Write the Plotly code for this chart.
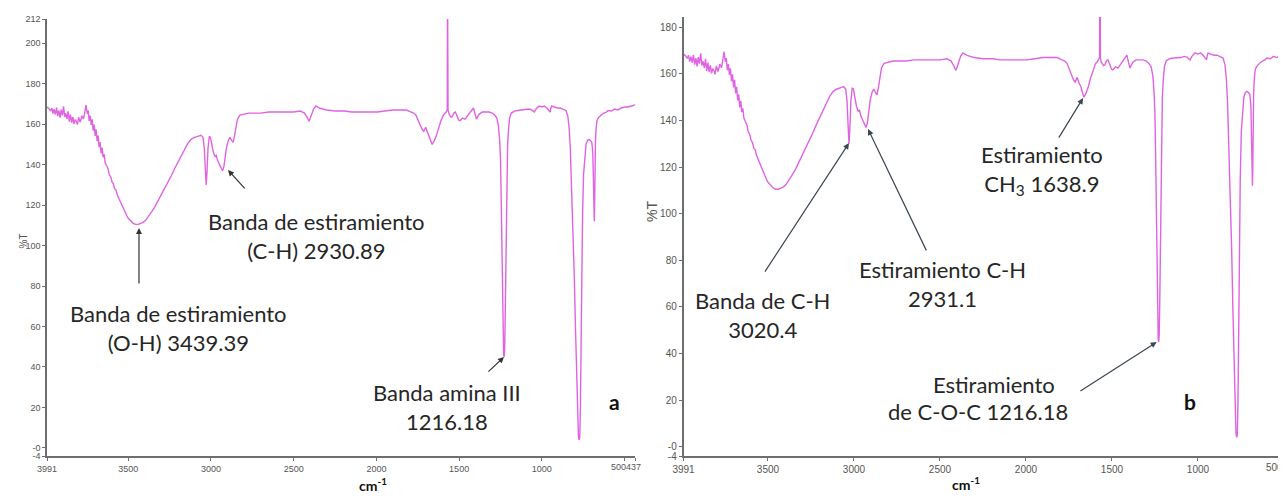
import plotly.graph_objects as go

# ---------------- data ----------------
wavenumber = [
    3991, 3980, 3970, 3962, 3955, 3948, 3940, 3933, 3926, 3919, 3912, 3905, 3898, 3891, 3884, 3877,
    3870, 3863, 3856, 3849, 3842, 3835, 3828, 3821, 3814, 3807, 3800, 3790, 3780, 3770, 3762, 3755,
    3748, 3742, 3736, 3730, 3724, 3718, 3712, 3706, 3700, 3694, 3688, 3682, 3676, 3670, 3664, 3658,
    3652, 3646, 3640, 3630, 3622, 3614, 3606, 3598, 3590, 3582, 3574, 3566, 3558, 3550, 3540, 3530,
    3520, 3510, 3500, 3485, 3470, 3455, 3440, 3425, 3410, 3395, 3380, 3360, 3340, 3320, 3300, 3280,
    3260, 3240, 3220, 3200, 3180, 3160, 3140, 3120, 3100, 3080, 3060, 3048, 3040, 3034, 3029, 3024,
    3018, 3010, 3003, 2995, 2985, 2975, 2968, 2960, 2950, 2940, 2930, 2922, 2915, 2905, 2895, 2885,
    2875, 2866, 2858, 2850, 2840, 2825, 2800, 2773, 2700, 2650, 2600, 2550, 2500, 2460, 2435, 2420,
    2407, 2395, 2380, 2366, 2345, 2325, 2300, 2250, 2191, 2150, 2100, 2050, 1994, 1950, 1900, 1850,
    1819, 1790, 1775, 1761, 1748, 1738, 1732, 1724, 1714, 1708, 1702, 1694, 1686, 1680, 1672, 1663,
    1652, 1639, 1625, 1610, 1595, 1587, 1578, 1572, 1570, 1567, 1562, 1558, 1549, 1541, 1532, 1523,
    1512, 1502, 1494, 1480, 1465, 1452, 1438, 1423, 1413, 1404, 1395, 1386, 1378, 1360, 1340, 1320,
    1300, 1285, 1272, 1262, 1255, 1250, 1246, 1242, 1238, 1234, 1231, 1228, 1225, 1222, 1219, 1215,
    1211, 1207, 1201, 1195, 1185, 1165, 1145, 1120, 1100, 1080, 1064, 1055, 1046, 1035, 1017, 1000,
    985, 970, 958, 950, 945, 941, 925, 905, 889, 870, 854, 843, 835, 828, 820, 812,
    804, 797, 790, 784, 779, 775, 771, 767, 763, 759, 754, 748, 740, 733, 724, 715,
    706, 698, 692, 688, 685, 683, 681, 679, 676, 672, 667, 660, 650, 640, 625, 610,
    599, 580, 560, 541, 520, 500, 480, 460, 437,
]
transmittance = [
    168.5, 167.8, 166.6, 168, 165.2, 167.4, 164.8, 168.2, 164, 166.8, 163.2, 167.2, 164.4, 168.8, 163.6, 165.4,
    162.6, 166.4, 161.2, 164.8, 160.8, 163.6, 160.2, 162.2, 161.4, 159.8, 163.4, 161, 164.2, 162.6, 166.2, 169.5,
    165.2, 166.8, 161.6, 164.2, 159.6, 162.4, 156.8, 159.8, 154.2, 157.4, 151.6, 154.4, 148.6, 151.2, 145.6, 148.4,
    143.6, 145.2, 141, 139, 138, 135, 134, 131.5, 130.5, 128, 127.5, 125, 123.5, 122, 120, 118,
    116.5, 115, 113.5, 112, 111, 110.5, 110.5, 111, 111.5, 112.5, 114, 116.5, 119, 122, 125, 128,
    131.5, 134.5, 138, 141, 144.5, 147.5, 150.5, 152.5, 153.5, 154, 154.5, 153.5, 148, 138, 130, 136,
    148, 154, 153.5, 150, 146, 144, 144.5, 142, 140.5, 139, 137, 139, 144, 149, 152, 153.5,
    152, 151, 154, 159, 162.5, 164.5, 165, 165.5, 165.5, 166, 166, 166, 166, 166.5, 165.5, 163.5,
    161.5, 164, 167.5, 169, 168, 167.5, 167, 166.5, 166.5, 166, 166, 166, 166, 166.5, 167, 167,
    167, 166, 165.5, 164.5, 162, 159.5, 158.5, 157.5, 156.5, 158, 158.5, 156.5, 155, 154.4, 152, 150,
    151.5, 154, 158, 161.7, 164.5, 165, 166, 167, 230, 167, 165, 164.5, 163.5, 163.8, 165.5, 166,
    164, 162, 161.7, 163, 162.5, 164, 165.5, 167, 168, 165, 162.5, 164, 165, 166, 166, 166,
    165.5, 164.5, 163, 159, 152, 143, 125, 100, 75, 55, 46, 45, 48, 62, 85, 110,
    135, 150, 158, 163, 165.5, 166.5, 166.8, 167, 167, 167.5, 167.2, 166.5, 166, 167.5, 169, 168.5,
    169, 168, 167, 166, 168, 169, 168.5, 168, 168, 167.5, 166.8, 164, 158, 148, 130, 110,
    85, 60, 35, 15, 6, 4, 5, 20, 60, 90, 115, 135, 145, 150, 152, 152.5,
    152, 151, 146, 130, 115, 112, 120, 140, 152, 158, 161.7, 163, 164, 164.7, 165.5, 166,
    166.8, 166.5, 167.5, 167, 168, 168.5, 168.5, 169, 169.5,
]

x_ticks_left = [3991, 3500, 3000, 2500, 2000, 1500, 1000, 500, 437]
x_labels_left = ["3991", "3500", "3000", "2500", "2000", "1500", "1000", "", ""]
x_ticks_right = [3991, 3500, 3000, 2500, 2000, 1500, 1000, 500]
x_labels_right = ["3991", "3500", "3000", "2500", "2000", "1500", "1000", ""]
y_ticks_left = [-4, 0, 20, 40, 60, 80, 100, 120, 140, 160, 180, 200, 212]
y_labels_left = ["-4", "-0", "20", "40", "60", "80", "100", "120", "140", "160", "180", "200", "212"]
y_ticks_right = [-4, 0, 20, 40, 60, 80, 100, 120, 140, 160, 180]
y_labels_right = ["-4", "-0", "20", "40", "60", "80", "100", "120", "140", "160", "180"]

LINE = "#E063E3"
AX = "#6e6e6e"
TICKFONT = "Liberation Sans Narrow, Arial Narrow, Liberation Sans, Arial"
ANNFONT = "Lato, Carlito, Calibri, Open Sans, sans-serif"
OFF = 8                      # page body margin of the written html
W, H = 1286 - OFF, 503 - OFF


def px(xp):
    return (xp - OFF) / W


def py(yp):
    return 1 - (yp - OFF) / H


fig = go.Figure()
fig.add_trace(go.Scatter(x=wavenumber, y=transmittance, mode="lines",
                         line=dict(color=LINE, width=1.4), xaxis="x", yaxis="y",
                         showlegend=False, hoverinfo="skip"))
fig.add_trace(go.Scatter(x=wavenumber, y=transmittance, mode="lines",
                         line=dict(color=LINE, width=1.4), xaxis="x2", yaxis="y2",
                         showlegend=False, hoverinfo="skip"))

axis_common = dict(showgrid=False, zeroline=False, showline=True, linecolor=AX, linewidth=1.5,
                   ticks="outside", ticklen=3, tickcolor=AX, tickwidth=1, automargin=False)

fig.update_layout(
    width=W, height=H,
    margin=dict(l=0, r=0, t=0, b=0, autoexpand=False),
    paper_bgcolor="white", plot_bgcolor="white",
    xaxis=dict(domain=[px(47), px(635)], range=[3991, 437], tickmode="array",
               tickvals=x_ticks_left, ticktext=x_labels_left, anchor="y",
               tickfont=dict(family=TICKFONT, size=9, color="#555"), **axis_common),
    yaxis=dict(domain=[py(456), py(19)], range=[-4, 212], tickmode="array",
               tickvals=y_ticks_left, ticktext=y_labels_left, anchor="x",
               tickfont=dict(family=TICKFONT, size=9, color="#555"), **axis_common),
    xaxis2=dict(domain=[px(683.5), 1.0], range=[3991, 488], tickmode="array",
                tickvals=x_ticks_right, ticktext=x_labels_right, anchor="y2",
                tickfont=dict(family=TICKFONT, size=10, color="#555"), **axis_common),
    yaxis2=dict(domain=[py(456), py(17)], range=[-4, 184.4], tickmode="array",
                tickvals=y_ticks_right, ticktext=y_labels_right, anchor="x2",
                tickfont=dict(family=TICKFONT, size=10, color="#555"), **axis_common),
)

ann = []
# tick label pairs at the right ends of the axes
ann.append(dict(xref="paper", yref="paper", x=px(626), y=py(467), text="500437", showarrow=False,
                font=dict(family=TICKFONT, size=9, color="#555"), xanchor="center", yanchor="middle"))
ann.append(dict(xref="paper", yref="paper", x=px(1285), y=py(467), text="500", showarrow=False,
                font=dict(family=TICKFONT, size=10, color="#555"), xanchor="right", yanchor="middle"))
# y titles
ann.append(dict(xref="paper", yref="paper", x=px(16), y=py(241), text="%T", textangle=-90,
                showarrow=False, font=dict(family="Liberation Sans, Arial", size=10, color="#555")))
ann.append(dict(xref="paper", yref="paper", x=px(652), y=py(211), text="%T", textangle=-90,
                showarrow=False, font=dict(family="Liberation Sans, Arial", size=14, color="#555")))
# x titles
ann.append(dict(xref="paper", yref="paper", x=px(357), y=py(496), text="<b>cm<sup>-1</sup></b>",
                showarrow=False, font=dict(family=ANNFONT, size=14, color="#111")))
ann.append(dict(xref="paper", yref="paper", x=px(982), y=py(495), text="<b>cm<sup>-1</sup></b>",
                showarrow=False, font=dict(family=ANNFONT, size=14, color="#111")))
# panel letters
ann.append(dict(xref="x", yref="y", x=558, y=22.7, text="<b>a</b>", showarrow=False,
                font=dict(family=ANNFONT, size=21, color="#111")))
ann.append(dict(xref="x2", yref="y2", x=1046, y=19.2, text="<b>b</b>", showarrow=False,
                font=dict(family=ANNFONT, size=21, color="#111")))

TXT = dict(family=ANNFONT, size=22, color="#262626")
# text labels (x in cm-1, y in %T)
labels = [
    ("x", "y", 3199, 59.3, "Banda de estiramiento<br>(O-H) 3439.39"),
    ("x", "y", 2365, 104.7, "Banda de estiramiento<br>(C-H) 2930.89"),
    ("x", "y", 1573, 20.2, "Banda amina III<br>1216.18"),
    ("x2", "y2", 3529, 56.5, "Banda de C-H<br>3020.4"),
    ("x2", "y2", 2488, 69.8, "Estiramiento C-H<br>2931.1"),
    ("x2", "y2", 1907, 118.7, "Estiramiento<br>CH<sub>3</sub> 1638.9"),
    ("x2", "y2", 2186, 26.5, "Estiramiento"),
    ("x2", "y2", 2279, 14.9, "de C-O-C 1216.18"),
]
for xr, yr, xv, yv, t in labels:
    ann.append(dict(xref=xr, yref=yr, x=xv, y=yv, text=t, showarrow=False, font=TXT,
                    xanchor="center", yanchor="middle", align="center"))

# arrows: (axis, tip x, tip y, tail x, tail y, color)
arrows = [
    ("x", "y", 3435, 108.7, 3435, 80.5, "#333333"),
    ("x", "y", 2897, 137.4, 2788, 127.5, "#333333"),
    ("x", "y", 1229, 44.9, 1332, 37.0, "#333333"),
    ("x2", "y2", 3029, 130.3, 3523, 74.5, "#3b4656"),
    ("x2", "y2", 2918, 136.3, 2575, 83.6, "#3b4656"),
    ("x2", "y2", 1668, 149.6, 1814, 132.0, "#3b4656"),
    ("x2", "y2", 1240, 44.9, 1692, 23.5, "#3b4656"),
]
for xr, yr, tx, ty, sx, sy, c in arrows:
    ann.append(dict(xref=xr, yref=yr, axref=xr, ayref=yr, x=tx, y=ty, ax=sx, ay=sy, text="",
                    showarrow=True, arrowhead=2, arrowsize=1, arrowwidth=1.2, arrowcolor=c,
                    standoff=0, startstandoff=0))

fig.update_layout(annotations=ann)
fig.write_html("out.html")
